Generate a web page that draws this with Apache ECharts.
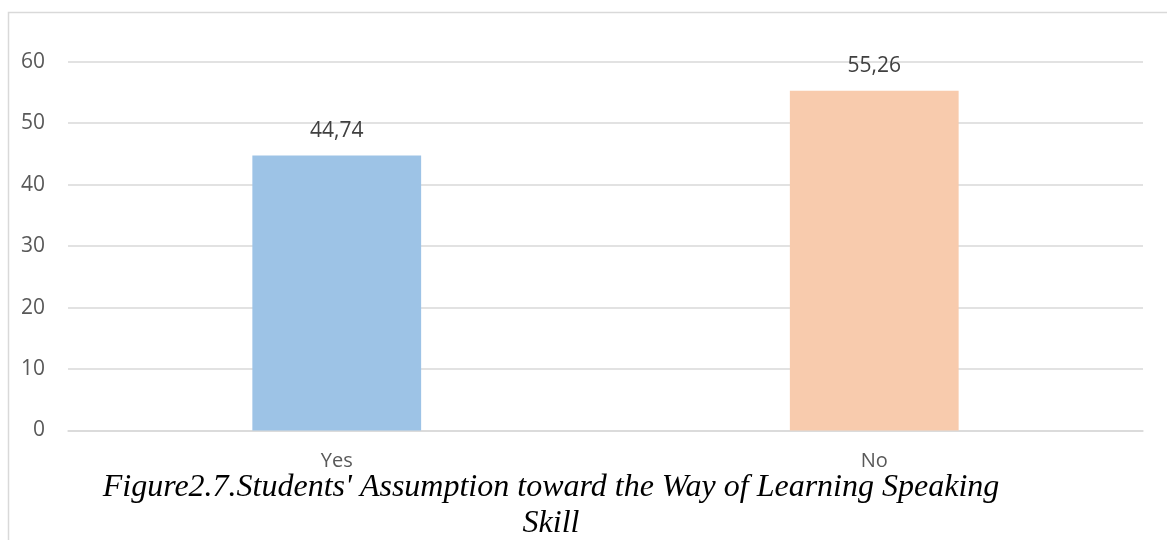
<!DOCTYPE html>
<html>
<head>
<meta charset="utf-8">
<script src="https://cdn.jsdelivr.net/npm/echarts@6/dist/echarts.min.js"></script>
<style>html,body{margin:0;padding:0;background:#fff;}#c{width:1167px;height:540px;}</style>
</head>
<body>
<div id="c"></div>
<script>
const categories = ['Yes', 'No'];
const values = [44.74, 55.26];
const barColors = ['#9dc3e6', '#f8cbad'];
const yTicks = [0, 10, 20, 30, 40, 50, 60];
const caption = "Figure2.7.Students' Assumption toward the Way of Learning Speaking\nSkill";

const chart = echarts.init(document.getElementById('c'), null, {renderer: 'canvas'});
chart.setOption({
  animation: false,
  backgroundColor: '#fff',
  title: {
    text: caption,
    left: 551,
    top: 470,
    padding: 0,
    textAlign: 'center',
    textStyle: {
      fontFamily: 'Liberation Serif',
      fontStyle: 'italic',
      fontWeight: 'normal',
      fontSize: 32,
      color: '#000',
      lineHeight: 36
    }
  },
  graphic: [{
    type: 'rect',
    shape: {x: 8.5, y: 12.5, width: 1300, height: 700},
    style: {fill: 'none', stroke: '#d9d9d9', lineWidth: 1.5},
    silent: true
  }],
  grid: {left: 68, right: 24, top: 61.7, bottom: 109.5, containLabel: false},
  xAxis: {
    type: 'category',
    data: categories,
    axisLine: {show: true, lineStyle: {color: '#d9d9d9', width: 1.5}},
    axisTick: {show: false},
    axisLabel: {color: '#595959', fontFamily: 'Open Sans', fontSize: 20, margin: 21}
  },
  yAxis: {
    type: 'value',
    min: yTicks[0],
    max: yTicks[yTicks.length - 1],
    interval: 10,
    axisLine: {show: false},
    axisTick: {show: false},
    splitLine: {lineStyle: {color: '#d9d9d9', width: 1.5}},
    axisLabel: {color: '#595959', fontFamily: 'Open Sans', fontSize: 21, margin: 23}
  },
  series: [{
    type: 'bar',
    barWidth: '31.4%',
    data: values.map((v, i) => ({value: v, itemStyle: {color: barColors[i]}})),
    label: {
      show: true,
      position: 'top',
      distance: 14,
      color: '#404040',
      fontFamily: 'Open Sans',
      fontSize: 21,
      formatter: p => p.value.toFixed(2).replace('.', ',')
    }
  }]
});
</script>
</body>
</html>
